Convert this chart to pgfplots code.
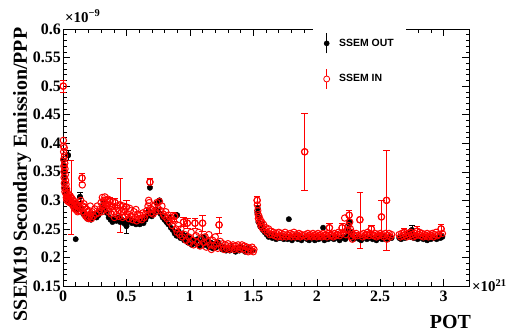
\documentclass[border=0pt]{standalone}
\usepackage{pgfplots}
\pgfplotsset{compat=1.18}
\usepackage{pgfplotstable}
\usepackage{fontspec}
\setmainfont{Liberation Serif}
\newfontfamily\legfont{Liberation Sans}

\pgfplotstableread{
x y
0.002 0.500
0.003 0.405
0.004 0.395
0.005 0.385
0.006 0.372
0.007 0.360
0.008 0.350
0.009 0.340
0.010 0.392
0.011 0.330
0.012 0.378
0.013 0.322
0.014 0.365
0.015 0.315
0.016 0.355
0.018 0.345
0.020 0.335
0.022 0.312
0.024 0.328
0.026 0.305
0.028 0.320
0.030 0.300
0.033 0.314
0.036 0.306
0.040 0.298
0.044 0.310
0.048 0.302
0.052 0.296
0.056 0.308
0.060 0.300
0.063 0.305
0.068 0.295
0.072 0.303
0.076 0.292
0.080 0.300
0.085 0.288
0.090 0.298
0.095 0.285
0.100 0.294
0.105 0.283
0.110 0.290
0.115 0.280
0.120 0.292
0.125 0.282
0.130 0.296
0.135 0.286
0.140 0.300
0.150 0.339
0.152 0.327
0.155 0.290
0.160 0.280
0.165 0.294
0.170 0.276
0.175 0.288
0.180 0.272
0.185 0.284
0.190 0.270
0.195 0.280
0.200 0.268
0.205 0.282
0.210 0.272
0.215 0.290
0.220 0.276
0.225 0.268
0.230 0.280
0.240 0.272
0.250 0.285
0.260 0.276
0.270 0.290
0.280 0.278
0.290 0.284
0.300 0.296
0.305 0.280
0.310 0.305
0.315 0.290
0.320 0.300
0.325 0.284
0.330 0.306
0.335 0.294
0.340 0.300
0.345 0.286
0.350 0.292
0.355 0.302
0.360 0.280
0.365 0.290
0.370 0.298
0.380 0.276
0.385 0.288
0.390 0.290
0.400 0.280
0.405 0.270
0.410 0.296
0.420 0.275
0.425 0.290
0.430 0.286
0.440 0.272
0.445 0.282
0.450 0.292
0.460 0.280
0.470 0.270
0.475 0.290
0.480 0.284
0.490 0.272
0.500 0.288
0.510 0.276
0.520 0.268
0.525 0.286
0.530 0.282
0.540 0.272
0.550 0.266
0.560 0.280
0.570 0.270
0.575 0.284
0.580 0.264
0.590 0.276
0.600 0.268
0.610 0.274
0.620 0.266
0.630 0.278
0.640 0.270
0.650 0.276
0.660 0.282
0.670 0.290
0.675 0.300
0.680 0.296
0.685 0.332
0.690 0.286
0.695 0.278
0.700 0.284
0.710 0.276
0.720 0.290
0.730 0.280
0.740 0.296
0.750 0.286
0.760 0.298
0.770 0.282
0.780 0.290
0.790 0.276
0.800 0.272
0.810 0.280
0.820 0.268
0.830 0.274
0.840 0.262
0.850 0.270
0.860 0.256
0.870 0.265
0.880 0.272
0.890 0.250
0.900 0.244
0.910 0.256
0.920 0.240
0.930 0.250
0.940 0.236
0.950 0.262
0.960 0.240
0.970 0.230
0.980 0.260
0.990 0.236
1.000 0.226
1.010 0.244
1.020 0.230
1.030 0.222
1.040 0.260
1.050 0.238
1.060 0.226
1.070 0.244
1.080 0.220
1.090 0.232
1.100 0.260
1.110 0.226
1.120 0.236
1.130 0.218
1.140 0.228
1.150 0.240
1.160 0.222
1.170 0.214
1.180 0.230
1.190 0.220
1.200 0.236
1.210 0.224
1.220 0.216
1.230 0.257
1.240 0.228
1.250 0.218
1.260 0.224
1.270 0.214
1.280 0.222
1.290 0.216
1.300 0.224
1.310 0.214
1.320 0.220
1.330 0.216
1.340 0.222
1.350 0.214
1.360 0.220
1.370 0.216
1.380 0.222
1.390 0.214
1.400 0.218
1.410 0.222
1.420 0.215
1.430 0.220
1.440 0.212
1.450 0.218
1.460 0.210
1.470 0.216
1.480 0.212
1.490 0.218
1.500 0.210
1.505 0.214
1.530 0.300
1.532 0.292
1.535 0.282
1.538 0.275
1.540 0.268
1.545 0.272
1.550 0.262
1.555 0.266
1.560 0.256
1.565 0.262
1.570 0.252
1.580 0.258
1.590 0.248
1.600 0.252
1.610 0.244
1.620 0.250
1.630 0.240
1.640 0.246
1.650 0.240
1.660 0.244
1.670 0.238
1.680 0.242
1.690 0.236
1.700 0.244
1.710 0.238
1.720 0.242
1.730 0.236
1.740 0.240
1.750 0.244
1.760 0.236
1.770 0.240
1.780 0.238
1.790 0.242
1.800 0.236
1.810 0.240
1.820 0.244
1.830 0.236
1.840 0.240
1.850 0.238
1.860 0.242
1.870 0.236
1.880 0.240
1.890 0.238
1.905 0.385
1.910 0.240
1.920 0.236
1.930 0.242
1.940 0.238
1.950 0.240
1.960 0.236
1.970 0.242
1.980 0.238
1.990 0.240
2.000 0.236
2.010 0.242
2.020 0.238
2.030 0.240
2.040 0.236
2.050 0.242
2.060 0.238
2.070 0.240
2.080 0.236
2.090 0.242
2.100 0.252
2.110 0.238
2.120 0.240
2.130 0.236
2.140 0.242
2.150 0.238
2.160 0.240
2.170 0.244
2.180 0.238
2.190 0.242
2.200 0.252
2.210 0.244
2.220 0.269
2.230 0.240
2.240 0.248
2.250 0.256
2.255 0.274
2.260 0.262
2.265 0.250
2.270 0.236
2.275 0.244
2.280 0.232
2.290 0.240
2.300 0.238
2.310 0.242
2.320 0.238
2.340 0.266
2.350 0.240
2.360 0.236
2.370 0.242
2.380 0.238
2.390 0.240
2.400 0.244
2.410 0.238
2.420 0.242
2.430 0.250
2.440 0.240
2.450 0.238
2.460 0.242
2.470 0.236
2.480 0.240
2.490 0.238
2.500 0.242
2.510 0.271
2.520 0.240
2.530 0.236
2.540 0.242
2.550 0.300
2.552 0.232
2.560 0.238
2.570 0.242
2.580 0.236
2.590 0.240
2.650 0.240
2.660 0.236
2.670 0.242
2.680 0.238
2.690 0.244
2.700 0.240
2.710 0.236
2.720 0.242
2.730 0.238
2.740 0.244
2.750 0.240
2.760 0.236
2.770 0.242
2.780 0.238
2.790 0.246
2.800 0.240
2.810 0.244
2.820 0.238
2.830 0.242
2.840 0.236
2.850 0.240
2.860 0.238
2.870 0.242
2.880 0.236
2.890 0.240
2.900 0.238
2.910 0.242
2.920 0.236
2.930 0.240
2.940 0.244
2.950 0.238
2.960 0.240
2.980 0.250
2.990 0.242
}\ssemin

\pgfplotstableread{
x y e
0.002 0.500 0.010
0.063 0.305 0.065
0.150 0.339 0.008
0.370 0.298 0.008
0.410 0.296 0.008
0.450 0.292 0.047
0.500 0.288 0.012
0.685 0.332 0.007
0.880 0.272 0.008
0.950 0.262 0.008
0.980 0.260 0.008
1.040 0.260 0.008
1.100 0.260 0.014
1.230 0.257 0.014
1.530 0.300 0.008
1.905 0.385 0.068
2.100 0.252 0.008
2.200 0.252 0.008
2.255 0.274 0.009
2.340 0.266 0.049
2.430 0.250 0.006
2.510 0.271 0.029
2.550 0.300 0.088
2.690 0.244 0.008
2.790 0.246 0.008
2.980 0.250 0.008
}\ssemine

\pgfplotstableread{
x y
0.003 0.370
0.006 0.350
0.008 0.330
0.010 0.360
0.012 0.320
0.015 0.340
0.040 0.379
0.025 0.310
0.030 0.318
0.035 0.300
0.045 0.305
0.055 0.298
0.065 0.294
0.075 0.290
0.085 0.296
0.100 0.232
0.095 0.286
0.110 0.284
0.120 0.290
0.134 0.306
0.145 0.286
0.160 0.276
0.175 0.272
0.190 0.268
0.205 0.274
0.220 0.266
0.235 0.272
0.250 0.276
0.265 0.270
0.280 0.274
0.295 0.280
0.310 0.288
0.320 0.296
0.330 0.284
0.345 0.278
0.360 0.270
0.375 0.266
0.390 0.262
0.405 0.268
0.420 0.264
0.435 0.270
0.450 0.262
0.465 0.266
0.480 0.260
0.495 0.264
0.500 0.255
0.515 0.262
0.530 0.266
0.545 0.260
0.560 0.264
0.575 0.258
0.590 0.262
0.605 0.258
0.620 0.264
0.635 0.260
0.650 0.266
0.665 0.272
0.675 0.282
0.685 0.322
0.690 0.278
0.700 0.272
0.715 0.278
0.730 0.284
0.740 0.295
0.750 0.282
0.760 0.300
0.770 0.276
0.785 0.270
0.800 0.266
0.815 0.262
0.830 0.258
0.840 0.270
0.850 0.252
0.865 0.248
0.880 0.242
0.895 0.238
0.900 0.274
0.910 0.246
0.925 0.234
0.940 0.242
0.955 0.230
0.970 0.238
0.985 0.226
1.000 0.234
1.015 0.222
1.030 0.230
1.045 0.224
1.060 0.232
1.075 0.220
1.090 0.228
1.105 0.236
1.120 0.222
1.135 0.230
1.150 0.218
1.165 0.226
1.180 0.216
1.195 0.224
1.210 0.218
1.225 0.226
1.240 0.220
1.255 0.214
1.270 0.218
1.285 0.212
1.300 0.216
1.315 0.212
1.330 0.218
1.345 0.214
1.360 0.210
1.375 0.216
1.390 0.212
1.405 0.218
1.420 0.214
1.435 0.210
1.450 0.216
1.465 0.212
1.480 0.214
1.495 0.212
1.532 0.278
1.535 0.286
1.540 0.262
1.548 0.270
1.555 0.254
1.565 0.258
1.575 0.248
1.590 0.244
1.605 0.240
1.620 0.236
1.635 0.240
1.650 0.234
1.665 0.238
1.680 0.232
1.695 0.236
1.710 0.234
1.725 0.238
1.740 0.232
1.755 0.236
1.770 0.232
1.780 0.267
1.790 0.236
1.805 0.230
1.820 0.234
1.835 0.238
1.850 0.232
1.865 0.236
1.880 0.230
1.895 0.234
1.910 0.236
1.925 0.232
1.940 0.230
1.955 0.236
1.970 0.234
1.985 0.230
2.000 0.234
2.015 0.232
2.030 0.236
2.045 0.234
2.050 0.252
2.060 0.230
2.075 0.234
2.090 0.232
2.105 0.236
2.120 0.234
2.135 0.232
2.150 0.236
2.165 0.234
2.180 0.230
2.195 0.234
2.210 0.236
2.225 0.232
2.240 0.238
2.250 0.248
2.255 0.258
2.260 0.262
2.265 0.244
2.275 0.236
2.290 0.232
2.305 0.234
2.320 0.236
2.335 0.232
2.350 0.230
2.365 0.234
2.380 0.236
2.395 0.232
2.410 0.234
2.425 0.236
2.440 0.232
2.455 0.234
2.470 0.230
2.485 0.236
2.500 0.234
2.515 0.232
2.530 0.236
2.545 0.234
2.560 0.232
2.575 0.236
2.590 0.234
2.650 0.234
2.665 0.232
2.680 0.236
2.695 0.234
2.710 0.238
2.725 0.244
2.740 0.236
2.750 0.248
2.765 0.234
2.780 0.236
2.795 0.232
2.810 0.234
2.825 0.236
2.840 0.232
2.855 0.234
2.870 0.230
2.885 0.234
2.900 0.232
2.915 0.236
2.930 0.234
2.945 0.232
2.960 0.236
2.975 0.234
2.990 0.236
}\ssemout

\pgfplotstableread{
x y e
0.040 0.379 0.008
0.134 0.306 0.008
0.500 0.255 0.012
2.750 0.248 0.008
}\ssemoute

\begin{document}
\begin{tikzpicture}
\begin{axis}[
  at={(63bp,47bp)}, anchor=south west,
  width=406bp, height=257bp, scale only axis,
  xmin=0, xmax=3.2, ymin=0.15, ymax=0.6,
  axis line style={line width=0.6bp},
  tick style={line width=0.5bp, black},
  major tick length=7bp, minor tick length=3.5bp,
  tick pos=both, xticklabel pos=lower, yticklabel pos=left,
  tick align=inside,
  xtick={0,0.5,1,1.5,2,2.5,3},
  xticklabels={0,0.5,1,1.5,2,2.5,3},
  ytick={0.15,0.2,0.25,0.3,0.35,0.4,0.45,0.5,0.55,0.6},
  yticklabels={0.15,0.2,0.25,0.3,0.35,0.4,0.45,0.5,0.55,0.6},
  minor x tick num=4, minor y tick num=4,
  ticklabel style={font=\bfseries\fontsize{16}{16}\selectfont},
  yticklabel style={inner sep=2bp},
  xticklabel style={inner sep=2bp, yshift=-3bp},
  xlabel={POT},
  xlabel style={font=\bfseries\fontsize{20}{20}\selectfont, at={(rel axis cs:0.954,-0.166)}, anchor=base},
  ylabel={SSEM19 Secondary Emission/PPP},
  ylabel style={font=\bfseries\fontsize{20}{20}\selectfont, at={(rel axis cs:-0.089,0.434)}, anchor=base, rotate=0},
  legend style={at={(rel axis cs:0.616,1.016)}, anchor=north west, draw=none, fill=white,
    font=\legfont\bfseries\fontsize{10.5}{12}\selectfont, row sep=15bp, inner xsep=10bp, inner ysep=8bp,
    /tikz/every odd column/.append style={column sep=7bp}},
  legend cell align=left,
  clip=false,
]
\addplot[only marks, mark=*, black, mark size=2.7bp,
  legend image code/.code={\draw[black, line width=0.6bp] (0bp,-10bp) -- (0bp,10bp); \fill[black] (0bp,0bp) circle (2.6bp);}]
  table {\ssemout};
\addlegendentry{SSEM OUT\hspace{12bp}}
\addplot[only marks, mark=*, black, mark size=2.7bp, forget plot,
  error bars/.cd, y dir=both, y explicit, error bar style={line width=0.6bp, black}]
  table[y error=e] {\ssemoute};
\addplot[only marks, mark=o, red, mark size=3.2bp, mark options={line width=1bp},
  legend image code/.code={\draw[red, line width=0.6bp] (0bp,-10bp) -- (0bp,10bp); \filldraw[draw=red, fill=white, line width=0.8bp] (0bp,0bp) circle (3bp);}]
  table {\ssemin};
\addlegendentry{SSEM IN}
\addplot[only marks, mark=o, red, mark size=3.2bp, mark options={line width=1bp}, forget plot,
  error bars/.cd, y dir=both, y explicit, error bar style={line width=0.6bp, red}]
  table[y error=e] {\ssemine};
\node[anchor=base west, font=\bfseries\fontsize{15}{15}\selectfont, inner sep=0pt] at ([xshift=2bp, yshift=7bp]rel axis cs:0,1) {×10\textsuperscript{−9}};
\node[anchor=west, font=\bfseries\fontsize{15}{15}\selectfont, inner sep=0pt] at ([xshift=3bp]rel axis cs:1,0) {×10\textsuperscript{21}};
\end{axis}
\pgfresetboundingbox
\path[use as bounding box] (0,0) rectangle (513bp,333bp);
\end{tikzpicture}
\end{document}
